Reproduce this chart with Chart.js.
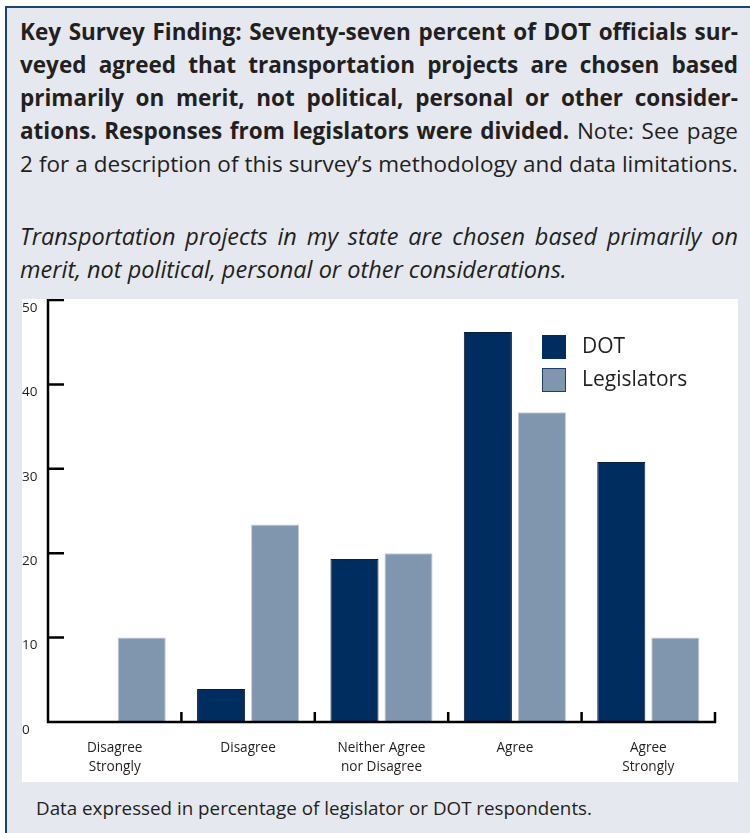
<!DOCTYPE html>
<html>
<head>
<meta charset="utf-8">
<script src="https://cdn.jsdelivr.net/npm/chart.js@4.4.1/dist/chart.umd.min.js"></script>
<style>
  body { margin: 0; width: 750px; height: 833px; overflow: hidden; background: #fff; font-family: "Open Sans", sans-serif; color: #231f20; }
  #box { position: absolute; left: 5px; top: 6px; width: 760px; height: 840px; border: 2px solid #1d4279; background: #e5e8ee; }
  .txt { position: absolute; left: 20px; width: 718px; }
  .txt .l { display: block; text-align: justify; text-align-last: justify; white-space: nowrap; }
  #head { top: 15px; font-size: 22.5px; line-height: 33px; }
  #question { top: 220px; font-size: 23.5px; line-height: 33px; font-style: italic; }
  #question .last { text-align-last: left; }
  #panel { position: absolute; left: 22px; top: 299px; width: 716px; height: 483px; background: #fff; }
  #note { position: absolute; left: 36px; top: 796px; font-size: 18.8px; line-height: 24px; }
  .leg { position: absolute; left: 542px; font-size: 21px; }
  .leg i { position: absolute; left: 0; width: 24px; height: 24px; box-sizing: border-box; }
  .leg span { position: absolute; left: 40px; top: -4px; white-space: nowrap; }
</style>
</head>
<body>
<div id="box"></div>
<div class="txt" id="head">
  <span class="l"><b>Key Survey Finding: Seventy-seven percent of DOT officials sur-</b></span>
  <span class="l"><b>veyed agreed that transportation projects are chosen based</b></span>
  <span class="l"><b>primarily on merit, not political, personal or other consider-</b></span>
  <span class="l"><b>ations. Responses from legislators were divided.</b> Note: See page</span>
  <span class="l">2 for a description of this survey’s methodology and data limitations.</span>
</div>
<div class="txt" id="question">
  <span class="l">Transportation projects in my state are chosen based primarily on</span>
  <span class="l last">merit, not political, personal or other considerations.</span>
</div>
<div id="panel"><canvas id="chart" width="716" height="483"></canvas></div>
<div id="legend"></div>
<div id="note">Data expressed in percentage of legislator or DOT respondents.</div>

<script>
// Survey responses, percent of respondents
const categories = [["Disagree", "Strongly"], ["Disagree"], ["Neither Agree", "nor Disagree"], ["Agree"], ["Agree", "Strongly"]];
const dotValues = [0, 3.9, 19.3, 46.2, 30.8];
const legislatorValues = [10.0, 23.4, 20.0, 36.7, 10.0];
const yTicks = [0, 10, 20, 30, 40, 50];

const seriesNames = ["DOT", "Legislators"];
const seriesColors = ["#002d5f", "#8096af"];
const seriesBorders = ["#0d1f38", "#c4cad1"];

// black axes with the ticks pointing inward, like the printed figure
const axisPlugin = {
  id: "axisPlugin",
  afterDatasetsDraw(chart) {
    const { ctx, chartArea } = chart;
    const x = chart.scales.x;
    const y = chart.scales.y;
    const top = y.getPixelForValue(yTicks[yTicks.length - 1]);
    const bottom = y.getPixelForValue(0);
    const left = chartArea.left;
    const right = chartArea.right;

    ctx.save();
    ctx.strokeStyle = "#000";
    ctx.lineWidth = 2.5;
    ctx.lineJoin = "miter";
    ctx.beginPath();
    ctx.moveTo(left + 16, top);
    ctx.lineTo(left, top);
    ctx.lineTo(left, bottom);
    ctx.lineTo(right, bottom);
    ctx.lineTo(right, bottom - 10);
    ctx.stroke();

    ctx.beginPath();
    yTicks.slice(1, -1).forEach((v) => {
      const py = y.getPixelForValue(v);
      ctx.moveTo(left, py);
      ctx.lineTo(left + 16, py);
    });
    for (let i = 1; i < categories.length; i++) {
      const px = (x.getPixelForValue(i - 1) + x.getPixelForValue(i)) / 2;
      ctx.moveTo(px, bottom);
      ctx.lineTo(px, bottom - 10);
    }
    ctx.stroke();
    ctx.restore();
  },
};

const ctx = document.getElementById("chart").getContext("2d");
new Chart(ctx, {
  type: "bar",
  data: {
    labels: categories,
    datasets: [
      {
        label: seriesNames[0],
        data: dotValues,
        backgroundColor: seriesColors[0],
        borderColor: seriesBorders[0],
        borderWidth: 1,
        categoryPercentage: 0.81,
        barPercentage: 0.89,
      },
      {
        label: seriesNames[1],
        data: legislatorValues,
        backgroundColor: seriesColors[1],
        borderColor: seriesBorders[1],
        borderWidth: 1,
        categoryPercentage: 0.81,
        barPercentage: 0.89,
      },
    ],
  },
  options: {
    responsive: false,
    animation: false,
    layout: { padding: { top: 1, right: 23, left: 0, bottom: 0 } },
    plugins: {
      legend: { display: false },
      tooltip: { enabled: false },
    },
    scales: {
      x: {
        offset: true,
        grid: { display: false },
        border: { display: false },
        ticks: {
          color: "#231f20",
          font: { family: "Open Sans", size: 13.6, lineHeight: 1.4 },
          padding: 9,
          maxRotation: 0,
          autoSkip: false,
        },
        afterFit: (scale) => { scale.height = 60; },
      },
      y: {
        min: 0,
        max: 50,
        grid: { display: false },
        border: { display: false },
        ticks: {
          stepSize: 10,
          color: "#231f20",
          font: { family: "Open Sans", size: 13.5 },
          crossAlign: "far",
          labelOffset: 8,
          padding: -9,
        },
        afterFit: (scale) => { scale.width = 26; },
      },
    },
  },
  plugins: [axisPlugin],
});

// legend built from the series
const legend = document.getElementById("legend");
seriesNames.forEach((name, i) => {
  const row = document.createElement("div");
  row.className = "leg";
  row.style.top = (335 + i * 33) + "px";
  const sw = document.createElement("i");
  sw.style.background = seriesColors[i];
  if (i === 1) sw.style.border = "1.5px solid #1d3d6b";
  const label = document.createElement("span");
  label.textContent = name;
  row.appendChild(sw);
  row.appendChild(label);
  legend.appendChild(row);
});
</script>
</body>
</html>
